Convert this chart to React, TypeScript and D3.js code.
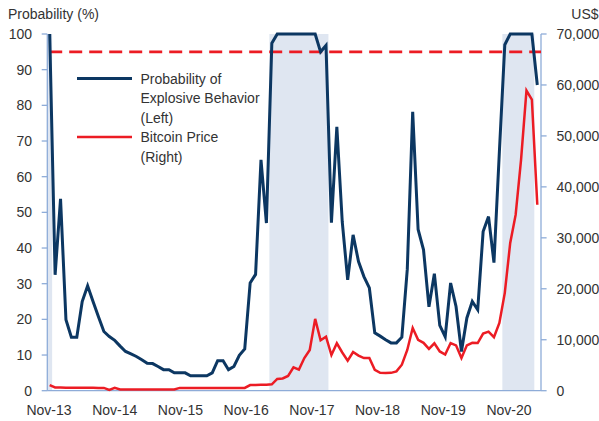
import React from 'react';
import * as d3 from 'd3';

const xLabels = ['Nov-13', 'Nov-14', 'Nov-15', 'Nov-16', 'Nov-17', 'Nov-18', 'Nov-19', 'Nov-20'];
const leftTicks = [0, 10, 20, 30, 40, 50, 60, 70, 80, 90, 100];
const rightTicks = [0, 10000, 20000, 30000, 40000, 50000, 60000, 70000];

// Monthly, Nov-13 .. May-21
const probability = [
  100, 32.5, 53.8, 19.9, 15, 15, 25, 29.4, 25, 20.7,
  16.6, 15.2, 14.1, 12.5, 11.0, 10.3, 9.6, 8.7, 7.7, 7.6,
  6.8, 5.9, 5.9, 5.0, 5.0, 5.0, 4.2, 4.2, 4.2, 4.2,
  5.0, 8.4, 8.4, 5.9, 6.8, 9.9, 11.7, 30.2, 32.6, 64.7,
  47, 97.4, 100, 100, 100, 100, 100, 100, 100, 100,
  95, 96.8, 47.1, 74, 47.3, 31.1, 43.7, 36.2, 32, 28.8,
  16.2, 15.3, 14.3, 13.4, 13.4, 15, 34, 78.2, 45.2, 39.5,
  23.5, 32.8, 18.3, 15.1, 30.2, 23.6, 11, 20.4, 25, 22.7,
  44.6, 48.8, 35.9, 67, 97, 100, 100, 100, 100, 100,
  85.7,
];

const bitcoinPrice = [
  1100,
  650, 650, 600, 600, 600, 600, 600, 600, 550, 550,
  150, 550,
  250, 250, 250, 250, 250, 250, 250, 250, 250, 250, 250,
  550, 550, 550, 550, 550, 550, 550, 550, 550, 550, 550, 550, 550,
  1100, 1100, 1150, 1150, 1250,
  2300, 2400, 2900, 4600, 4150, 6400, 8000, 14100, 9900, 10600,
  7000, 9300, 7500, 5900, 7600, 6900, 6400, 6400, 4100, 3500,
  3450, 3500, 3800, 5100, 8000, 12300, 10000, 9400, 8200, 9300,
  7700, 7100, 9350, 8900, 6400, 8900, 9400, 9350, 11200, 11600,
  10500, 13300, 19200, 29000, 34500, 45300, 58900, 57100, 36500,
];

const threshold = 95;

const BLUE = '#0c3762';
const RED = '#ec1c24';
const AXIS = '#8eacd8';
const SHADE = '#dfe6f1';
const TEXT = '#333333';
const FONT = "'Liberation Sans', Arial, sans-serif";

const legendItems = [
  { lines: ['Probability of', 'Explosive Behavior', '(Left)'], color: BLUE, width: 3 },
  { lines: ['Bitcoin Price', '(Right)'], color: RED, width: 2.5 },
];

export default function App() {
  const W = 599;
  const H = 421;
  const axisLeft = 47.3;
  const axisRight = 541;
  const yTop = 34;
  const yBottom = 390.7;

  const x = d3.scaleLinear().domain([0, probability.length - 1]).range([49.7, 537.3]);
  const yL = d3.scaleLinear().domain([0, 100]).range([yBottom, yTop]);
  const yR = d3.scaleLinear().domain([0, 70000]).range([yBottom, yTop]);
  const xl = d3.scalePoint<string>().domain(xLabels).range([49, 509]);

  const probLine = d3.line<number>().x((_, i) => x(i)).y((d) => yL(d));
  const priceLine = d3.line<number>().x((_, i) => x(i)).y((d) => yR(d));

  // shaded periods where probability >= threshold
  const periods: [number, number][] = [];
  let start = -1;
  probability.forEach((v, i) => {
    if (v >= threshold && start < 0) start = i;
    if ((v < threshold || i === probability.length - 1) && start >= 0) {
      const end = v >= threshold ? i : i - 1;
      periods.push([start, end]);
      start = -1;
    }
  });

  const fmt = d3.format(',');

  return (
    <div style={{ position: 'absolute', left: 0, top: 0 }}>
      <svg width={W} height={H} style={{ display: 'block', fontFamily: FONT }}>
        <rect width={W} height={H} fill="#ffffff" />
        {periods.map(([s, e], k) => {
          const x0 = Math.max(axisLeft, x(s - 0.45));
          const x1 = Math.min(axisRight, x(e + 0.45));
          return <rect key={k} x={x0} y={yTop} width={x1 - x0} height={yBottom - yTop} fill={SHADE} />;
        })}

        {/* axes */}
        <line x1={axisLeft} x2={axisLeft} y1={yTop} y2={yBottom} stroke={AXIS} strokeWidth={1.3} />
        <line x1={axisRight} x2={axisRight} y1={yTop} y2={yBottom} stroke={AXIS} strokeWidth={1.3} />
        <line x1={axisLeft} x2={axisRight} y1={yBottom} y2={yBottom} stroke={AXIS} strokeWidth={1.3} />
        {leftTicks.map((t) => (
          <g key={'l' + t}>
            <line x1={axisLeft - 5.6} x2={axisLeft} y1={yL(t)} y2={yL(t)} stroke={AXIS} strokeWidth={1.3} />
            <text x={32} y={yL(t)} dy="0.36em" textAnchor="end" fontSize={14} fill={TEXT}>{t}</text>
          </g>
        ))}
        {rightTicks.map((t) => (
          <g key={'r' + t}>
            <line x1={axisRight} x2={axisRight + 5.6} y1={yR(t)} y2={yR(t)} stroke={AXIS} strokeWidth={1.3} />
            <text x={556.5} y={yR(t)} dy="0.36em" textAnchor="start" fontSize={14} fill={TEXT}>{fmt(t)}</text>
          </g>
        ))}
        {xLabels.map((l) => (
          <text key={l} x={xl(l)} y={415} textAnchor="middle" fontSize={14} fill={TEXT}>{l}</text>
        ))}
        <text x={8} y={19} fontSize={14} fill={TEXT}>Probability (%)</text>
        <text x={598.5} y={19} textAnchor="end" fontSize={14} fill={TEXT}>US$</text>

        {/* threshold */}
        <line x1={x(0) - 0.5} x2={axisRight} y1={yL(threshold)} y2={yL(threshold)} stroke={RED} strokeWidth={2.6} strokeDasharray="13 7" />

        <path d={priceLine(bitcoinPrice) || ''} fill="none" stroke={RED} strokeWidth={2.5} />
        <path d={probLine(probability) || ''} fill="none" stroke={BLUE} strokeWidth={3} />

        {/* legend */}
        {legendItems.map((item, k) => {
          const baseY = k === 0 ? 78.5 : 137;
          return (
            <g key={k}>
              <line x1={77} x2={132} y1={baseY} y2={baseY} stroke={item.color} strokeWidth={item.width} />
              {item.lines.map((ln, j) => (
                <text key={j} x={140.5} y={baseY + j * 19.6} dy="0.36em" fontSize={14} fill={TEXT}>{ln}</text>
              ))}
            </g>
          );
        })}
      </svg>
    </div>
  );
}
